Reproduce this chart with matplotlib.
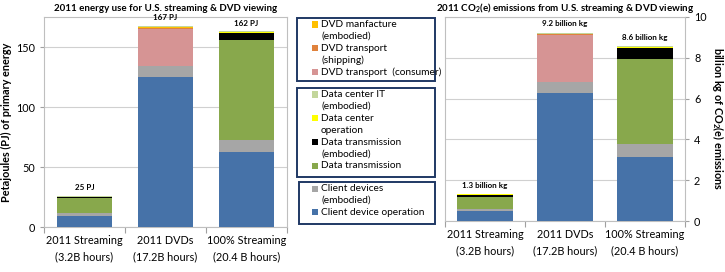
import matplotlib
matplotlib.use("Agg")
import matplotlib.pyplot as plt
from matplotlib.patches import Rectangle
import numpy as np

plt.rcParams['font.family'] = ['Lato', 'DejaVu Sans']
plt.rcParams['mathtext.fontset'] = 'custom'
plt.rcParams['mathtext.rm'] = 'Lato'
plt.rcParams['mathtext.bf'] = 'Lato:bold'
plt.rcParams['mathtext.it'] = 'Lato:italic'

categories = ["2011 Streaming\n(3.2B hours)", "2011 DVDs\n(17.2B hours)", "100% Streaming\n(20.4 B hours)"]

series_names = ["Client device operation", "Client devices (embodied)", "Data transmission",
                "Data transmission (embodied)", "DVD transport (consumer)", "DVD transport (shipping)",
                "DVD manfacture (embodied)", "Data center operation", "Data center IT (embodied)"]
colors = ["#4672A8", "#A6A6A6", "#88A84C", "#000000", "#D69494", "#E0823C", "#FFC000", "#FFFF00", "#C3D69B"]

# Energy (PJ)
energy_client_op = [9.4, 125.3, 62.7]
energy_client_emb = [1.9, 9.1, 10.1]
energy_data_trans = [12.6, 0.0, 83.4]
energy_data_trans_emb = [1.0, 0.0, 5.7]
energy_dvd_consumer = [0.0, 30.6, 0.0]
energy_dvd_shipping = [0.0, 0.6, 0.0]
energy_dvd_manuf = [0.0, 1.0, 0.0]
energy_dc_op = [0.5, 0.0, 0.8]
energy_dc_it = [0.2, 0.8, 0.3]
energy_labels = ["25 PJ", "167 PJ", "162 PJ"]

# Emissions (billion kg CO2e)
co2_client_op = [0.49, 6.29, 3.15]
co2_client_emb = [0.10, 0.54, 0.62]
co2_data_trans = [0.60, 0.0, 4.16]
co2_data_trans_emb = [0.07, 0.0, 0.57]
co2_dvd_consumer = [0.0, 2.29, 0.0]
co2_dvd_shipping = [0.0, 0.03, 0.0]
co2_dvd_manuf = [0.0, 0.03, 0.0]
co2_dc_op = [0.04, 0.0, 0.05]
co2_dc_it = [0.01, 0.04, 0.01]
co2_labels = ["1.3 billion kg", "9.2 billion kg", "8.6 billion kg"]

energy_series = [energy_client_op, energy_client_emb, energy_data_trans, energy_data_trans_emb,
                 energy_dvd_consumer, energy_dvd_shipping, energy_dvd_manuf, energy_dc_op, energy_dc_it]
co2_series = [co2_client_op, co2_client_emb, co2_data_trans, co2_data_trans_emb,
              co2_dvd_consumer, co2_dvd_shipping, co2_dvd_manuf, co2_dc_op, co2_dc_it]

W, H = 725, 272
fig = plt.figure(figsize=(W / 100, H / 100), dpi=100)

def fr(x0, y0, x1, y1):
    return [x0 / W, 1 - y1 / H, (x1 - x0) / W, (y1 - y0) / H]

ax1 = fig.add_axes(fr(44, 17, 287, 227))
ax2 = fig.add_axes(fr(445, 17, 685, 221))

def draw(ax, series, labels, ymax, yticks, offset_pts):
    x = np.arange(len(categories))
    bottom = np.zeros(len(categories))
    for vals, c in zip(series, colors):
        v = np.array(vals)
        ax.bar(x, v, bottom=bottom, width=0.69, color=c, linewidth=0, zorder=3)
        bottom += v
    for xi, top, lab in zip(x, bottom, labels):
        ax.annotate(lab, (xi, top), xytext=(0, offset_pts), textcoords='offset points',
                    ha='center', va='center', fontsize=5.8, fontweight='bold')
    ax.set_xlim(-0.5, 2.5)
    ax.set_ylim(0, ymax)
    ax.set_yticks(yticks)
    ax.set_xticks(x)
    ax.set_xticklabels(categories, fontsize=7.8, linespacing=1.5)
    ax.set_xticks([-0.5, 0.5, 1.5, 2.5], minor=True)
    ax.tick_params(axis='x', which='major', length=0, pad=6)
    ax.tick_params(axis='x', which='minor', length=4, color='#A0A0A0', width=0.8)
    ax.tick_params(axis='y', labelsize=7.8, length=3, color='#A0A0A0', width=0.8)
    ax.grid(axis='y', color='#D0D0D0', linewidth=0.8, zorder=0)
    for s in ax.spines.values():
        s.set_color('#BFBFBF')
        s.set_linewidth(0.8)

draw(ax1, energy_series, energy_labels, 175, [0, 50, 100, 150], 6)
draw(ax2, co2_series, co2_labels, 10, [0, 2, 4, 6, 8, 10], 6.5)

ax1.set_ylabel("Petajoules (PJ) of primary energy", fontsize=7.8, fontweight='bold', labelpad=3)
ax1.set_title("2011 energy use for U.S. streaming & DVD viewing", fontsize=7, fontweight='bold', pad=4)

ax2.yaxis.tick_right()
ax2.yaxis.set_label_position('right')
ax2.set_ylabel(r"billion kg of CO$_\mathbf{2}$(e) emissions", fontsize=7.8, fontweight='bold',
               rotation=270, labelpad=14)
ax2.set_title(r"2011 CO$_\mathbf{2}$(e) emissions from U.S. streaming & DVD viewing", fontsize=7,
              fontweight='bold', pad=4)

# Legend boxes
box_color = "#1F3864"
boxes = [
    (297, 18, 435, 81, [("DVD manfacture\n(embodied)", "#FFC000"),
                        ("DVD transport\n(shipping)", "#E0823C"),
                        ("DVD transport  (consumer)", "#D69494")]),
    (297, 88, 435, 177, [("Data center IT\n(embodied)", "#C3D69B"),
                         ("Data center\noperation", "#FFFF00"),
                         ("Data transmission\n(embodied)", "#000000"),
                         ("Data transmission", "#88A84C")]),
    (299, 182, 435, 224, [("Client devices\n(embodied)", "#A6A6A6"),
                          ("Client device operation", "#4672A8")]),
]
line_h = 11.9
for x0, y0, x1, y1, entries in boxes:
    fig.patches.append(Rectangle((x0 / W, 1 - y1 / H), (x1 - x0) / W, (y1 - y0) / H,
                                 transform=fig.transFigure, fill=False,
                                 edgecolor=box_color, linewidth=1.4))
    y = y0 + 6.5
    for text, c in entries:
        fig.patches.append(Rectangle((312 / W, 1 - (y + 3) / H), 6 / W, 6 / H,
                                     transform=fig.transFigure, facecolor=c, edgecolor='none'))
        nlines = text.count("\n") + 1
        for i, ln in enumerate(text.split("\n")):
            fig.text(321 / W, 1 - (y + i * line_h) / H, ln, fontsize=7.3, va='center', ha='left')
        y += nlines * line_h

fig.savefig("out.png", dpi=100)
